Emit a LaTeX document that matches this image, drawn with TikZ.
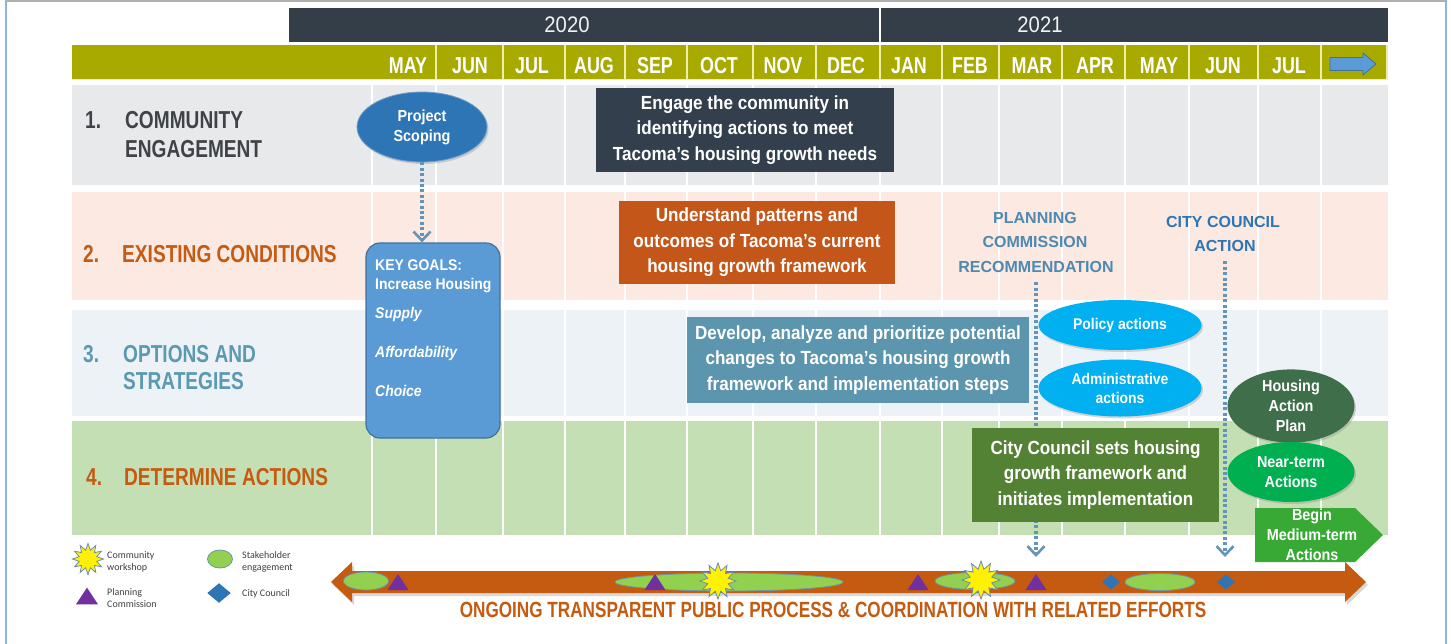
\documentclass[tikz,border=0pt]{standalone}
\usepackage{fontspec}
\setmainfont{Liberation Sans}
\newfontfamily\fA{Liberation Sans}[FakeStretch=0.78]
\newfontfamily\fB{Liberation Sans}[FakeStretch=0.9]
\newfontfamily\fC{Carlito}
\usetikzlibrary{shapes.geometric,arrows.meta,shadows}
\definecolor{framecol}{HTML}{8EB4E3}
\definecolor{yearcol}{HTML}{343E48}
\definecolor{olivecol}{HTML}{A8AA00}
\definecolor{mline}{HTML}{F0EEA8}
\definecolor{rowA}{HTML}{E8E9EB}
\definecolor{rowB}{HTML}{FBE9E2}
\definecolor{rowC}{HTML}{EDF2F6}
\definecolor{rowD}{HTML}{C5DFB4}
\definecolor{labA}{HTML}{3F4348}
\definecolor{labB}{HTML}{C55A11}
\definecolor{labC}{HTML}{5A99B0}
\definecolor{engagecol}{HTML}{333F4D}
\definecolor{undercol}{HTML}{C4561A}
\definecolor{devcol}{HTML}{5B95AE}
\definecolor{pccol}{HTML}{5089B0}
\definecolor{cccol}{HTML}{2E75B6}
\definecolor{cyancol}{HTML}{00B0F0}
\definecolor{hapcol}{HTML}{3F6E4A}
\definecolor{nearcol}{HTML}{00B050}
\definecolor{begincol}{HTML}{38A935}
\definecolor{ccsetcol}{HTML}{548235}
\definecolor{goalcol}{HTML}{5B9BD5}
\definecolor{goalborder}{HTML}{41719C}
\definecolor{scopecol}{HTML}{2E75B6}
\definecolor{arrowcol}{HTML}{C55A11}
\definecolor{stakecol}{HTML}{92D050}
\definecolor{stakeborder}{HTML}{6E95A8}
\definecolor{tricol}{HTML}{7030A0}
\definecolor{diacol}{HTML}{2E75B6}
\definecolor{starborder}{HTML}{6A8CB0}
\definecolor{dotcol}{HTML}{6394BA}
\definecolor{legtext}{HTML}{404040}
\tikzset{
  tri/.pic={\fill[tricol] (-10.5,8) -- (0,-8) -- (10.5,8) -- cycle;},
  dia/.pic={\fill[diacol] (-9,0) -- (0,-7.5) -- (9,0) -- (0,7.5) -- cycle;},
}
\begin{document}
\begin{tikzpicture}[x=1pt,y=-1pt,
  yeartxt/.style={text=white!90!gray, font=\fB\fontsize{22.5}{25}\selectfont, anchor=base, inner sep=0},
  monthtxt/.style={text=white, font=\fA\bfseries\fontsize{23}{25}\selectfont, anchor=base, inner sep=0},
  rowlab/.style={font=\fA\bfseries\fontsize{24.5}{28}\selectfont, anchor=base west, inner sep=0},
  boxnode/.style={inner sep=0, align=center, text=white, font=\fB\bfseries\fontsize{19}{25.5}\selectfont},
  ellnode/.style={ellipse, inner sep=0, align=center, text=white, font=\fB\bfseries\fontsize{16}{20}\selectfont,
     drop shadow={shadow xshift=1.5pt, shadow yshift=-2pt, opacity=0.3}},
  goaltxt/.style={text=white, font=\fB\bfseries\fontsize{15.5}{18}\selectfont, anchor=base west, inner sep=0},
  phasetxt/.style={font=\bfseries\fontsize{16}{20}\selectfont, anchor=base, inner sep=0},
  dotarrow/.style={draw=dotcol, line width=3.4pt, dash pattern=on 3pt off 2.4pt,
     -{Straight Barb[length=9pt,width=17pt,line width=2.6pt]}},
  marker/.style={ellipse, inner sep=0, fill=stakecol, draw=stakeborder, line width=0.8pt},
  starnode/.style={star, star points=12, star point ratio=1.7, inner sep=0, fill=yellow, draw=starborder, line width=0.8pt},
  legtxt/.style={text=legtext, font=\fC\fontsize{10}{12}\selectfont, anchor=base west, inner sep=0},
]
\useasboundingbox (0,0) rectangle (1451,643);
\fill[white] (0,0) rectangle (1451,643);
% frame
\draw[framecol, line width=2pt] (6,1) rectangle (1446,700);
\draw[gray!60, line width=1pt] (6,0.6) -- (1446,0.6);

% year bar
\fill[yearcol] (289,8) rectangle (1388,42);
\draw[white, line width=1.2pt] (880,8) -- (880,42);
\node[yeartxt] (y20) at (567,32) {2020};
\node[yeartxt] (y21) at (1040,32) {2021};

% month bar
\fill[olivecol] (72,45) rectangle (1387,80);
\foreach \x in {436,503,565,625,687,753,816,880,942,999,1062,1125,1189,1258,1321,1387}
  \draw[mline, line width=2pt] (\x,45) -- (\x,80);
\draw[mline, line width=1.5pt] (72,79.5) -- (1387,79.5);
\foreach \x/\m [count=\i] in {408/MAY,470/JUN,532/JUL,594/AUG,655/SEP,719/OCT,783/NOV,846/DEC,909/JAN,970/FEB,1032/MAR,1095/APR,1159/MAY,1223/JUN,1289/JUL}
  \node[monthtxt] (mon\i) at (\x,73) {\m};
% header arrow
\draw[fill=goalcol, draw=goalborder, line width=0.8pt] (1330,57.5) -- (1363,57.5) -- (1363,53) -- (1376,64) -- (1363,75) -- (1363,70.5) -- (1330,70.5) -- cycle;

% rows
\fill[rowA] (72,85) rectangle (1388,185);
\fill[rowB] (72,192) rectangle (1388,300);
\fill[rowC] (72,310) rectangle (1388,416);
\fill[rowD] (72,421) rectangle (1388,535);
\foreach \x in {372,436,503,565,625,687,753,816,880,942,999,1062,1125,1189,1258,1321}
  \draw[white, line width=2.5pt] (\x,85) -- (\x,535);

% row labels
\node[rowlab, text=labA] (n1) at (85,128) {1.};
\node[rowlab, text=labA] (r1a) at (125,128) {COMMUNITY};
\node[rowlab, text=labA] (r1b) at (125,157) {ENGAGEMENT};
\node[rowlab, text=labB] (n2) at (83,262) {2.};
\node[rowlab, text=labB] (r2) at (122,262) {EXISTING CONDITIONS};
\node[rowlab, text=labC] (n3) at (83,362) {3.};
\node[rowlab, text=labC] (r3a) at (123,362) {OPTIONS AND};
\node[rowlab, text=labC] (r3b) at (123,389) {STRATEGIES};
\node[rowlab, text=labB] (n4) at (86,485) {4.};
\node[rowlab, text=labB] (r4) at (124,485) {DETERMINE ACTIONS};

% phase labels
\node[phasetxt, text=pccol] (pc1) at (1035,223) {PLANNING};
\node[phasetxt, text=pccol] (pc2) at (1035,247) {COMMISSION};
\node[phasetxt, text=pccol] (pc3) at (1036,272) {RECOMMENDATION};
\node[phasetxt, text=cccol] (cc1) at (1223,227) {CITY COUNCIL};
\node[phasetxt, text=cccol] (cc2) at (1225,251) {ACTION};
\coordinate (pcend) at (1036,557);
\coordinate (ccend) at (1225,557);
\draw[dotarrow] ([yshift=-10pt]pc3.south) -- (pcend);
\draw[dotarrow] ([yshift=-10pt]cc2.south) -- (ccend);

% project scoping and key goals
\node[ellnode, fill=scopecol, draw=scopecol!70!white, line width=0.8pt, minimum width=130, minimum height=70] (scope) at (422,127) {Project\\Scoping};
\node[draw=goalborder, fill=goalcol, line width=1.2pt, rounded corners=14pt, minimum width=134, minimum height=195, inner sep=0] (goals) at (433,340.5) {};
\draw[dotarrow] (scope.south) -- (scope.south |- goals.north);
\node[goaltxt] (kg1) at (375,270) {KEY GOALS:};
\node[goaltxt] (kg2) at (375,289) {Increase Housing};
\node[goaltxt, font=\fB\bfseries\itshape\fontsize{15.5}{18}\selectfont] (kg3) at (375,318) {Supply};
\node[goaltxt, font=\fB\bfseries\itshape\fontsize{15.5}{18}\selectfont] (kg4) at (375,357) {Affordability};
\node[goaltxt, font=\fB\bfseries\itshape\fontsize{15.5}{18}\selectfont] (kg5) at (375,396) {Choice};

% text boxes
\node[boxnode, fill=engagecol, minimum width=298, minimum height=84] (engage) at (745,130)
  {Engage the community in\\identifying actions to meet\\Tacoma’s housing growth needs};
\node[boxnode, fill=undercol, minimum width=276, minimum height=83] (under) at (757,242.5)
  {Understand patterns and\\outcomes of Tacoma’s current\\housing growth framework};
\node[boxnode, fill=devcol, minimum width=342, minimum height=86] (develop) at (858,360)
  {Develop, analyze and prioritize potential\\changes to Tacoma’s housing growth\\framework and implementation steps};
\node[boxnode, fill=ccsetcol, minimum width=247, minimum height=94] (ccsets) at (1095.5,475)
  {City Council sets housing\\growth framework and\\initiates implementation};

% action ellipses
\node[ellnode, fill=cyancol, minimum width=163, minimum height=50, font=\fB\bfseries\fontsize{15.5}{19}\selectfont] (policy) at (1120,325) {Policy actions};
\node[ellnode, fill=cyancol, minimum width=163, minimum height=57, font=\fB\bfseries\fontsize{15.5}{19}\selectfont] (admin) at (1120,388) {Administrative\\actions};
\node[ellnode, fill=hapcol, minimum width=127, minimum height=58] (hap) at (1291,406) {Housing\\Action\\Plan};
\node[ellnode, fill=nearcol, minimum width=127, minimum height=60] (near) at (1291,472) {Near-term\\Actions};
\fill[begincol] (1255,508) -- (1355,508) -- (1383,535) -- (1355,562) -- (1255,562) -- cycle;
\node[text=white, font=\fB\bfseries\fontsize{16}{20}\selectfont, align=center, inner sep=0] (begin) at (1312,535) {Begin\\Medium-term\\Actions};

% bottom double arrow
\fill[arrowcol, drop shadow={shadow xshift=2pt, shadow yshift=-3pt, opacity=0.3}]
  (331,582) -- (352,562) -- (352,571) -- (1345,571) -- (1345,562) -- (1366,582)
  -- (1345,602) -- (1345,593) -- (352,593) -- (352,602) -- cycle;
\node[marker, minimum width=45, minimum height=18] (e1) at (366,581) {};
\node[marker, minimum width=228, minimum height=18] (e2) at (729,582) {};
\node[marker, minimum width=80, minimum height=17] (e3) at (975,581) {};
\node[marker, minimum width=70, minimum height=17] (e4) at (1160,582) {};
\pic (t1) at (398,582) {tri};
\pic (t2) at (655,582) {tri};
\pic (t3) at (918,582) {tri};
\pic (t4) at (1036,582) {tri};
\node[starnode, minimum size=36] (s1) at (718,581) {};
\node[starnode, minimum size=38] (s2) at (981,580) {};
\pic (d1) at (1111,582) {dia};
\pic (d2) at (1226,582) {dia};
\node[text=arrowcol, font=\fA\bfseries\fontsize{22}{24}\selectfont, anchor=base, inner sep=0] (ongoing) at (833,617)
  {ONGOING TRANSPARENT PUBLIC PROCESS \& COORDINATION WITH RELATED EFFORTS};

% legend
\node[starnode, minimum size=31] (ls) at (88,559) {};
\node[legtxt] (lt1a) at (107,558) {Community};
\node[legtxt] (lt1b) at (107,570) {workshop};
\pic[scale=1.05] (lt) at (87,596) {tri};
\node[legtxt] (lt2a) at (107,595) {Planning};
\node[legtxt] (lt2b) at (107,607) {Commission};
\node[marker, minimum width=25, minimum height=18] (le) at (220,559) {};
\node[legtxt] (lt3a) at (242,558) {Stakeholder};
\node[legtxt] (lt3b) at (242,570) {engagement};
\pic[scale=1.3] (ld) at (219,593) {dia};
\node[legtxt] (lt4) at (242,596) {City Council};
\end{tikzpicture}
\end{document}
